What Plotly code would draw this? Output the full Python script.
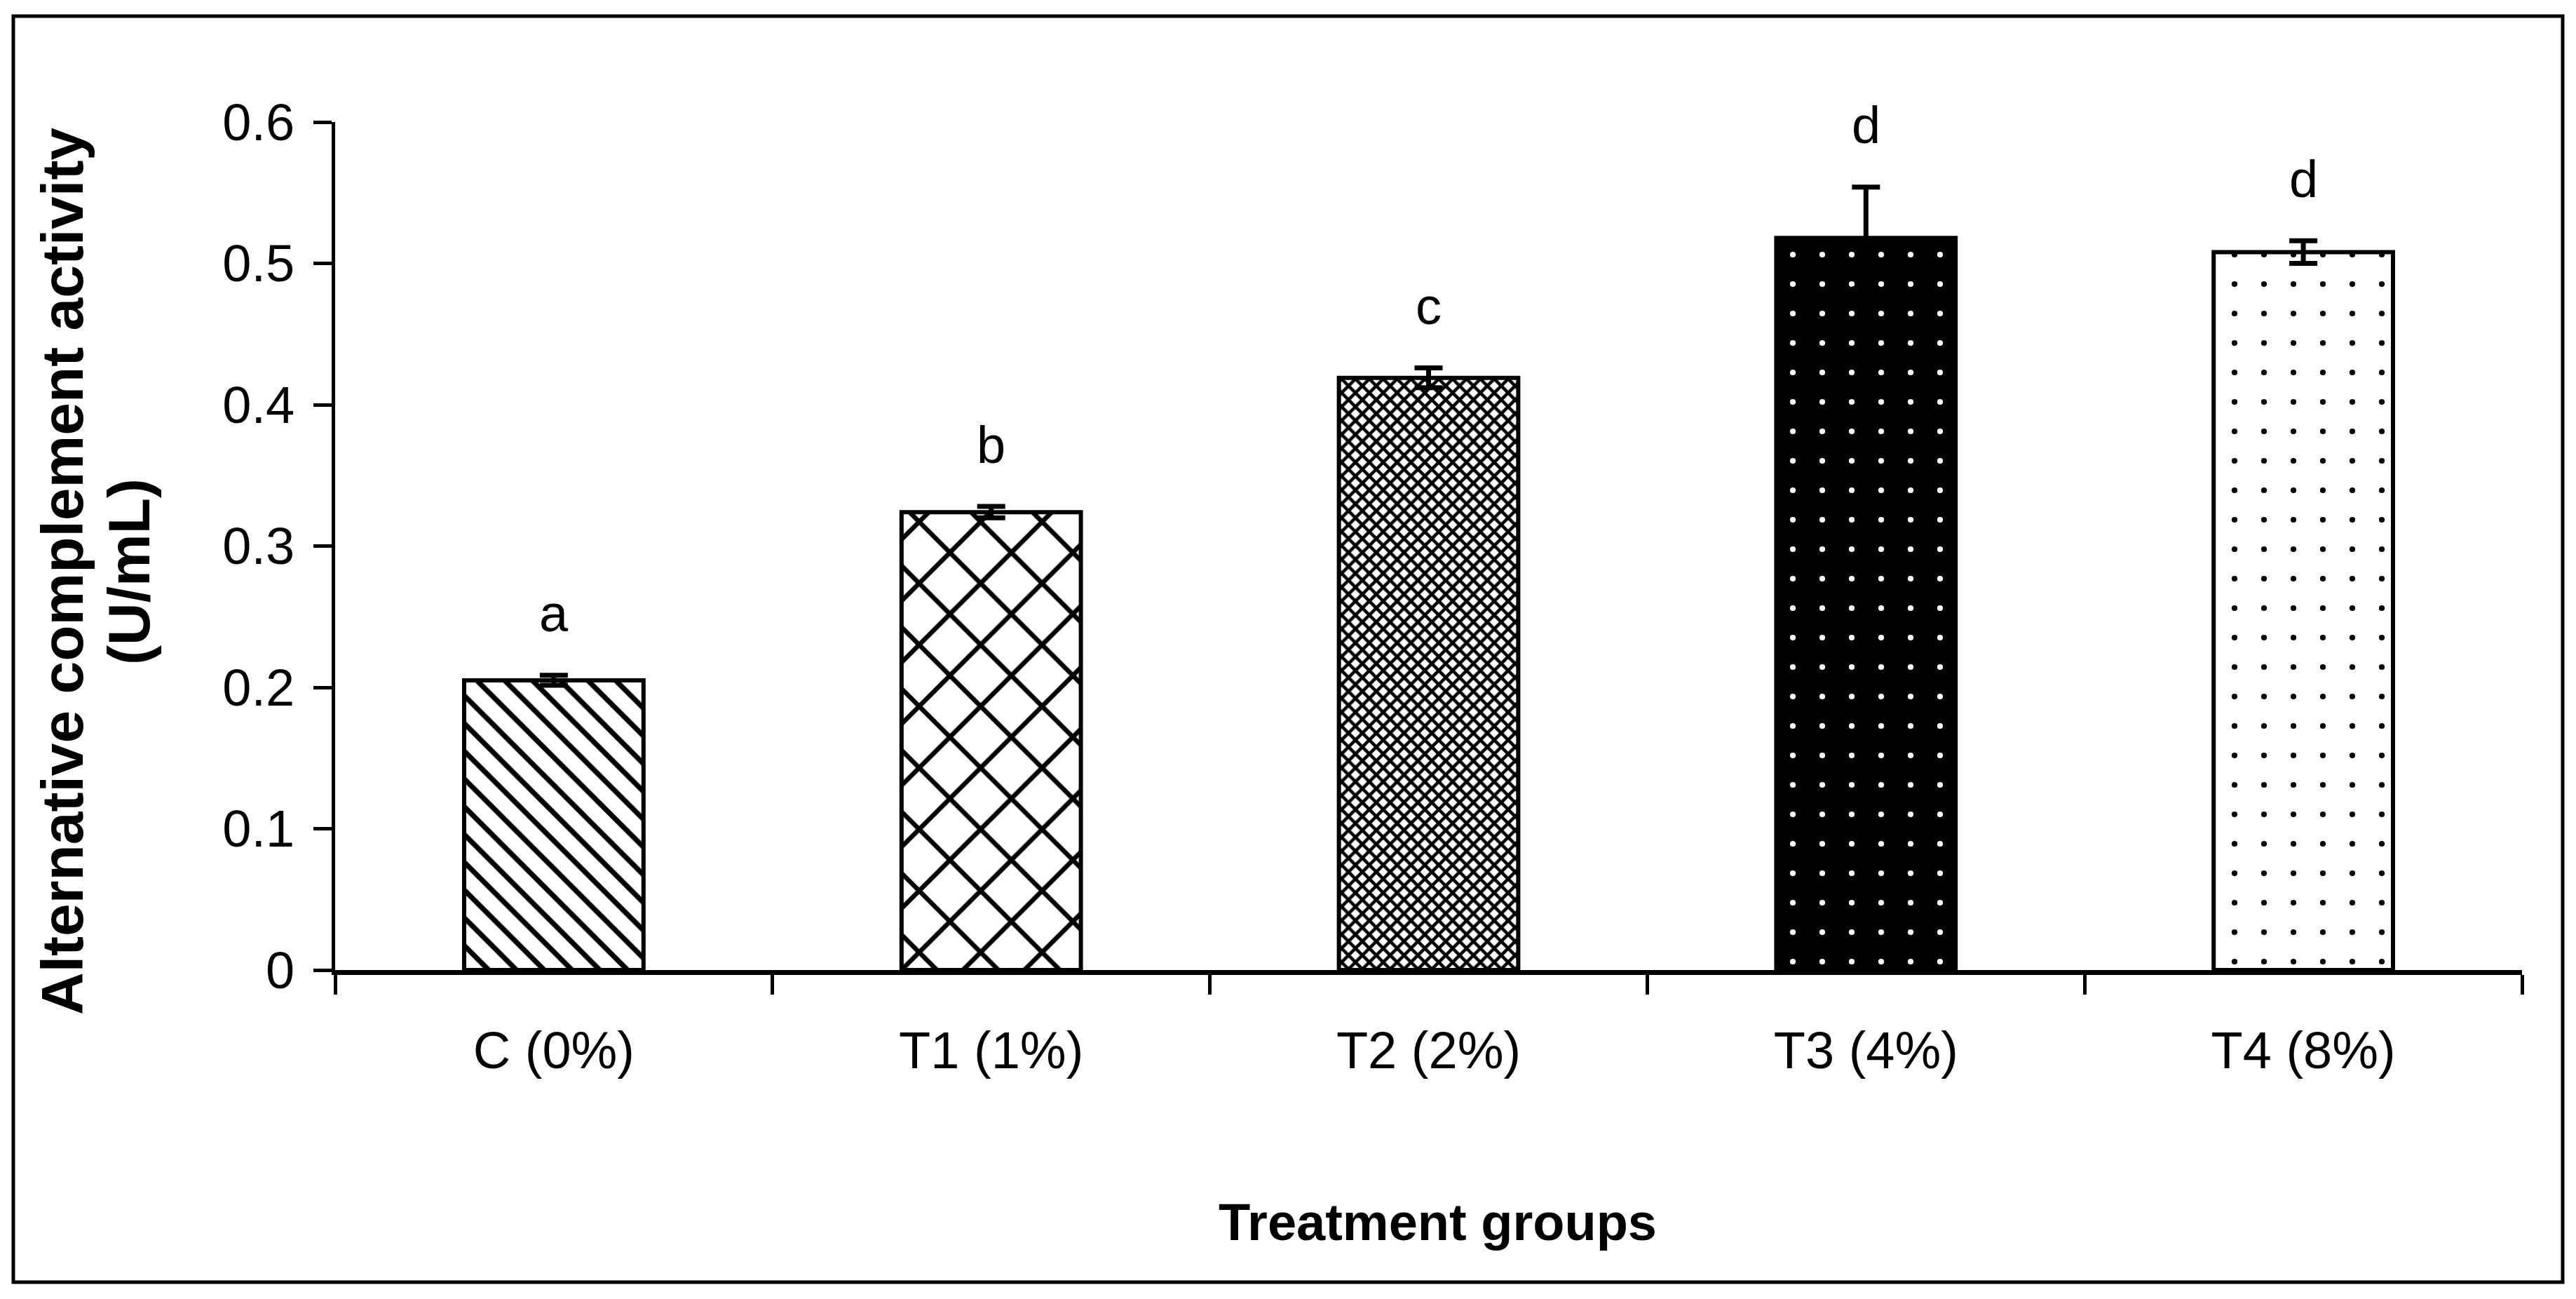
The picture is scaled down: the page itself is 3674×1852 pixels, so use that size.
import plotly.graph_objects as go

# ---- data ----
categories = ["C (0%)", "T1 (1%)", "T2 (2%)", "T3 (4%)", "T4 (8%)"]
means = [0.205, 0.324, 0.419, 0.518, 0.508]
errors = [0.0035, 0.004, 0.007, 0.036, 0.008]
letters = ["a", "b", "c", "d", "d"]
y_ticks = [0, 0.1, 0.2, 0.3, 0.4, 0.5, 0.6]
y_title_line1 = "Alternative complement activity"
y_title_line2 = "(U/mL)"
x_title = "Treatment groups"

# ---- style ----
W, H = 3674, 1852
ML, MR, MT, MB = 478, 77, 174, 469
PW, PH = W - ML - MR, H - MT - MB
FONT = "Liberation Sans, Arial, sans-serif"
FS = 74

pattern_shape = ["\\", "x", "x", ".", "."]
pattern_fg = ["black", "black", "black", "white", "black"]
pattern_bg = ["white", "white", "white", "black", "white"]
pattern_size = [28, 62, 14, 42, 42]
pattern_solid = [0.26, 0.2, 0.55, 0.03, 0.03]

fig = go.Figure()
for i, (c, m, e) in enumerate(zip(categories, means, errors)):
    fig.add_trace(go.Bar(
        x=[c], y=[m],
        marker=dict(
            color=pattern_bg[i],
            line=dict(color="black", width=6),
            pattern=dict(shape=pattern_shape[i], fgcolor=pattern_fg[i], bgcolor=pattern_bg[i],
                         size=pattern_size[i], solidity=pattern_solid[i], fillmode="replace"),
        ),
        error_y=dict(type="data", array=[e], visible=True, color="black",
                     thickness=7, width=20),
        width=0.41,
        showlegend=False,
    ))

def px_to_paper_x(px):
    return (px - ML) / PW

def px_to_paper_y(py):
    return (H - MB - py) / PH

annotations = []
for c, m, e, t in zip(categories, means, errors, letters):
    annotations.append(dict(x=c, y=m + e + 0.029, xref="x", yref="y", text=t,
                            showarrow=False, yanchor="bottom", yshift=-14,
                            font=dict(family=FONT, size=FS, color="black")))

annotations.append(dict(x=px_to_paper_x(89), y=px_to_paper_y(815), xref="paper", yref="paper",
                        text="<b>" + y_title_line1 + "</b>", textangle=-90, showarrow=False,
                        xanchor="center", yanchor="middle",
                        font=dict(family=FONT, size=84, color="black")))
annotations.append(dict(x=px_to_paper_x(184), y=px_to_paper_y(815), xref="paper", yref="paper",
                        text="<b>" + y_title_line2 + "</b>", textangle=-90, showarrow=False,
                        xanchor="center", yanchor="middle",
                        font=dict(family=FONT, size=84, color="black")))
annotations.append(dict(x=px_to_paper_x(2050), y=px_to_paper_y(1742), xref="paper", yref="paper",
                        text="<b>" + x_title + "</b>", showarrow=False,
                        xanchor="center", yanchor="middle",
                        font=dict(family=FONT, size=FS, color="black")))

fig.update_layout(
    width=W, height=H,
    margin=dict(l=ML, r=MR, t=MT, b=MB, pad=0),
    paper_bgcolor="white", plot_bgcolor="white",
    annotations=annotations,
    shapes=[dict(type="rect", xref="paper", yref="paper",
                 x0=px_to_paper_x(19), x1=px_to_paper_x(3655),
                 y0=px_to_paper_y(1828), y1=px_to_paper_y(23),
                 line=dict(color="black", width=5), fillcolor="rgba(0,0,0,0)", layer="below")],
    barmode="overlay",
)
fig.update_xaxes(
    type="category", categoryorder="array", categoryarray=categories,
    showline=True, linecolor="black", linewidth=7,
    ticks="outside", tickson="boundaries", ticklen=28, tickwidth=5, tickcolor="black",
    showgrid=False, zeroline=False,
    tickfont=dict(family=FONT, size=FS, color="black"),
    ticklabelstandoff=44,
)
fig.update_yaxes(
    range=[0, 0.6], tickvals=y_ticks, showline=True, linecolor="black", linewidth=5,
    ticks="outside", ticklen=26, tickwidth=5, tickcolor="black",
    showgrid=False, zeroline=False,
    tickfont=dict(family=FONT, size=FS, color="black"),
    ticklabelstandoff=12,
)

fig.write_html("out.html", config={"displayModeBar": False},
               post_script="document.body.style.margin='0px';document.body.style.overflow='hidden';")
